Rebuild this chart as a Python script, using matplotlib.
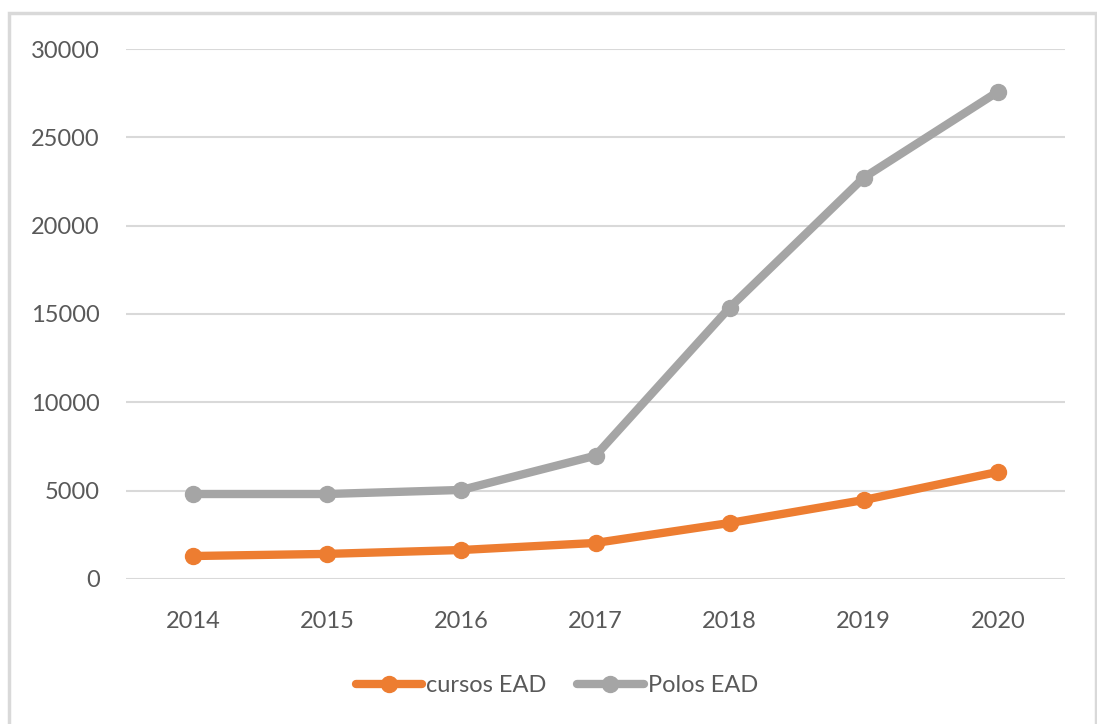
import matplotlib.pyplot as plt
from matplotlib.patches import Rectangle

anos = ["2014", "2015", "2016", "2017", "2018", "2019", "2020"]
cursos_ead = [1300, 1420, 1640, 2040, 3170, 4470, 6060]
polos_ead = [4810, 4810, 5040, 6980, 15360, 22720, 27580]

laranja = "#ED7D31"
cinza = "#A5A5A5"
texto = "#595959"

plt.rcParams['font.family'] = ['Lato', 'DejaVu Sans']

fig = plt.figure(figsize=(10.97, 7.24), dpi=100)
ax = fig.add_axes([0.1149, 0.2003, 0.8559, 0.7320])

x = list(range(len(anos)))
ax.plot(x, cursos_ead, color=laranja, lw=6, marker='o', ms=11.5,
        solid_capstyle='round', label="cursos EAD", zorder=3)
ax.plot(x, polos_ead, color=cinza, lw=6, marker='o', ms=11.5,
        solid_capstyle='round', label="Polos EAD", zorder=3)

ax.set_xlim(-0.5, len(anos) - 0.5)
ax.set_ylim(0, 30000)
ax.set_yticks(range(0, 30001, 5000))
ax.set_xticks(x)
ax.set_xticklabels(anos)
ax.grid(axis='y', color='#D9D9D9', lw=1.5, zorder=0)
for s in ax.spines.values():
    s.set_visible(False)
ax.tick_params(length=0, labelsize=17, labelcolor=texto)
ax.tick_params(axis='y', pad=19)
ax.tick_params(axis='x', pad=23)

fig.legend(loc='center', bbox_to_anchor=(557 / 1097, 1 - 686 / 724), ncol=2,
           frameon=False, fontsize=17, labelcolor=texto, handlelength=2.8,
           handletextpad=0.2, columnspacing=1.3)

# borda do grafico
fig.patches.append(Rectangle((9 / 1097, -0.05), 1087 / 1097, 1.05 - 13 / 724,
                             transform=fig.transFigure, fill=False,
                             edgecolor='#D9D9D9', lw=2.5))

fig.savefig("out.png", dpi=100)
